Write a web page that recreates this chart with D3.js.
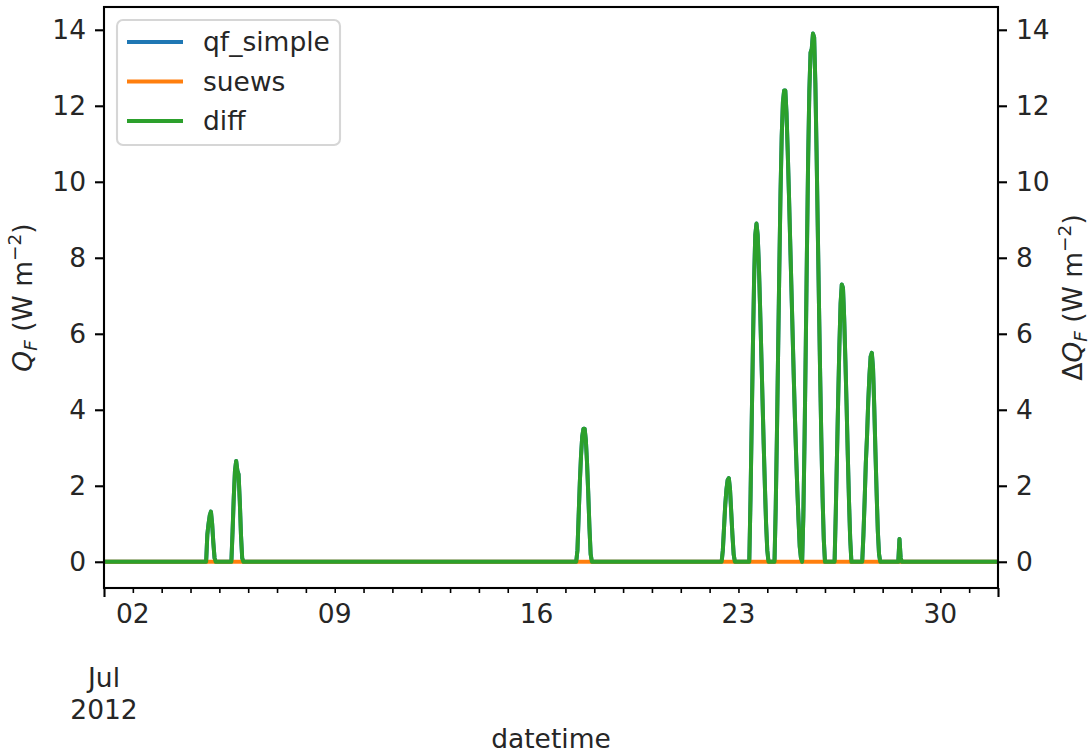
<!DOCTYPE html>
<html>
<head>
<meta charset="utf-8">
<script src="https://cdn.jsdelivr.net/npm/d3@7"></script>
<style>
  body { margin: 0; background: #fff; }
  svg { font-family: "DejaVu Sans", sans-serif; }
</style>
</head>
<body>
<svg id="chart" width="1092" height="755"></svg>
<script>
// hourly series, Jul 2012; zero everywhere except these daytime episodes
const seriesNames = ["qf_simple", "suews", "diff"];
const seriesColors = ["#1f77b4", "#ff7f0e", "#2ca02c"];

const periodStart = "2012-07-01T00:00:00Z";
const periodEnd = "2012-08-01T00:00:00Z";

// start of each nonzero episode of qf_simple, and its hourly values
const episodeStarts = [
  "2012-07-04T13:00:00Z", "2012-07-05T10:00:00Z", "2012-07-17T09:00:00Z",
  "2012-07-22T10:00:00Z", "2012-07-23T09:00:00Z", "2012-07-24T06:00:00Z",
  "2012-07-25T05:00:00Z", "2012-07-26T08:00:00Z", "2012-07-27T07:00:00Z",
  "2012-07-28T13:00:00Z"
];
const episodeValues = [
  [0, 0.72, 1.0, 1.22, 1.32, 1.0, 0.5, 0.1, 0],
  [0, 0.8, 1.7, 2.4, 2.65, 2.4, 2.3, 1.6, 0.7, 0.1, 0],
  [0, 0.3, 1.2, 2.1, 2.8, 3.3, 3.5, 3.5, 3.2, 2.6, 1.8, 0.9, 0.2, 0],
  [0, 0.3, 0.9, 1.5, 1.9, 2.15, 2.2, 1.9, 1.3, 0.7, 0.2, 0],
  [0, 1.6, 3.6, 5.6, 7.4, 8.6, 8.9, 8.6, 7.8, 6.7, 5.5, 4.3, 3.1, 2.0, 1.0, 0.3, 0],
  [0, 1.4, 3.3, 5.5, 7.7, 9.7, 11.2, 12.1, 12.4, 12.4, 11.8, 10.8, 9.7, 8.5, 7.3, 6.1, 4.9, 3.8, 2.8, 1.9, 1.1, 0.4, 0.1],
  [0, 1.2, 3.2, 5.6, 8.2, 10.6, 12.4, 13.4, 13.5, 13.9, 13.8, 12.6, 10.8, 8.8, 6.8, 4.9, 3.2, 1.7, 0.6, 0],
  [0, 1.3, 2.8, 4.3, 5.7, 6.8, 7.3, 7.2, 6.4, 5.3, 4.1, 2.8, 1.6, 0.6, 0],
  [0, 0.7, 1.6, 2.6, 3.3, 4.2, 4.9, 5.4, 5.5, 5.1, 4.1, 2.9, 1.8, 0.8, 0.2, 0],
  [0, 0.6, 0.1, 0]
];

const yTicks = [0, 2, 4, 6, 8, 10, 12, 14];
const xLabelDays = ["2012-07-02", "2012-07-09", "2012-07-16", "2012-07-23", "2012-07-30"];

const svg = d3.select("#chart");
const margin = { left: 104, right: 94, top: 7, bottom: 167 };
const W = 1092, H = 755;
const pw = W - margin.left - margin.right, ph = H - margin.top - margin.bottom;
const fs = 26.5, fsSmall = 18.5;

const t0 = new Date(periodStart), t1 = new Date(periodEnd);
const hours = d3.utcHour.range(t0, d3.utcHour.offset(t1, 1));

// build qf_simple from episodes
const qfMap = new Map();
episodeStarts.forEach((s, i) => {
  const st = new Date(s);
  episodeValues[i].forEach((v, k) => qfMap.set(+d3.utcHour.offset(st, k), v));
});
const qfSimple = hours.map(t => ({ t, v: qfMap.get(+t) || 0 }));
const suews = hours.map(t => ({ t, v: 0 }));
const diff = qfSimple.map((d, i) => ({ t: d.t, v: d.v - suews[i].v }));
const series = [qfSimple, suews, diff];

const x = d3.scaleUtc().domain([t0, t1]).range([0, pw]);
const y = d3.scaleLinear().domain([-0.69, 14.6]).range([ph, 0]);
const y2 = y.copy();

const g = svg.append("g").attr("transform", `translate(${margin.left},${margin.top})`);

g.append("clipPath").attr("id", "clip").append("rect").attr("width", pw).attr("height", ph);

const line = d3.line().x(d => x(d.t)).y(d => y(d.v));
g.append("g").attr("clip-path", "url(#clip)")
  .selectAll("path").data(series).enter().append("path")
  .attr("d", line)
  .attr("fill", "none")
  .attr("stroke", (d, i) => seriesColors[i])
  .attr("stroke-width", 4)
  .attr("stroke-linejoin", "round")
  .attr("stroke-linecap", "square");

// x axis: daily minor ticks, month major ticks
const minorAx = g.append("g").attr("transform", `translate(0,${ph})`)
  .call(d3.axisBottom(x).tickValues(d3.utcDay.range(d3.utcDay.offset(t0, 1), t1)).tickSize(5).tickFormat(""));
minorAx.select(".domain").remove();
minorAx.selectAll("line").attr("stroke", "#000").attr("stroke-width", 1.6);

const majorAx = g.append("g").attr("transform", `translate(0,${ph})`)
  .call(d3.axisBottom(x).tickValues([t0, t1]).tickSize(9).tickFormat(""));
majorAx.select(".domain").remove();
majorAx.selectAll("line").attr("stroke", "#000").attr("stroke-width", 2.1);

const fmtDay = d3.utcFormat("%d");
g.append("g").selectAll("text").data(xLabelDays.map(s => new Date(s + "T00:00:00Z"))).enter()
  .append("text")
  .attr("x", d => x(d)).attr("y", ph + 35)
  .attr("text-anchor", "middle").attr("font-size", fs).attr("fill", "#262626")
  .text(d => fmtDay(d));

const monthLbl = g.append("text").attr("x", x(t0)).attr("y", ph + 99)
  .attr("text-anchor", "middle").attr("font-size", fs).attr("fill", "#262626");
monthLbl.append("tspan").attr("x", x(t0)).text("Jul");
monthLbl.append("tspan").attr("x", x(t0)).attr("dy", 32).text("2012");

g.append("text").attr("x", pw / 2).attr("y", ph + 160)
  .attr("text-anchor", "middle").attr("font-size", fs).attr("fill", "#262626")
  .text("datetime");

// left y axis
const yl = g.append("g").call(d3.axisLeft(y).tickValues(yTicks).tickSize(9).tickPadding(9));
yl.select(".domain").remove();
yl.selectAll("line").attr("stroke", "#000").attr("stroke-width", 2.1);
yl.selectAll("text").attr("font-size", fs).attr("fill", "#262626").attr("font-family", "DejaVu Sans");

// right y axis
const yr = g.append("g").attr("transform", `translate(${pw},0)`)
  .call(d3.axisRight(y2).tickValues(yTicks).tickSize(9).tickPadding(9));
yr.select(".domain").remove();
yr.selectAll("line").attr("stroke", "#000").attr("stroke-width", 2.1);
yr.selectAll("text").attr("font-size", fs).attr("fill", "#262626").attr("font-family", "DejaVu Sans");

// frame
g.append("rect").attr("width", pw).attr("height", ph)
  .attr("fill", "none").attr("stroke", "#000").attr("stroke-width", 2.1);

// axis titles
function yTitle(el, delta) {
  if (delta) el.append("tspan").text("\u0394");
  el.append("tspan").attr("font-style", "italic").text("Q");
  el.append("tspan").attr("font-style", "italic").attr("font-size", fsSmall).attr("dy", 5).text("F");
  el.append("tspan").attr("dy", -5).text(" (W m");
  el.append("tspan").attr("font-size", fsSmall).attr("dy", -11).text("\u22122");
  el.append("tspan").attr("dy", 11).text(")");
}
const ly = svg.append("text").attr("transform", `translate(32,${margin.top + ph / 2}) rotate(-90)`)
  .attr("text-anchor", "middle").attr("font-size", fs).attr("fill", "#262626");
yTitle(ly, false);
const ry = svg.append("text").attr("transform", `translate(1082,${margin.top + ph / 2}) rotate(-90)`)
  .attr("text-anchor", "middle").attr("font-size", fs).attr("fill", "#262626");
yTitle(ry, true);

// legend
const lg = g.append("g").attr("transform", "translate(13,13)");
lg.append("rect").attr("width", 223).attr("height", 125).attr("rx", 6)
  .attr("fill", "#fff").attr("fill-opacity", 0.8).attr("stroke", "#d6d6d6").attr("stroke-width", 2.1);
seriesNames.forEach((n, i) => {
  const yy = 22 + i * 39.5;
  lg.append("line").attr("x1", 10).attr("x2", 66).attr("y1", yy).attr("y2", yy)
    .attr("stroke", seriesColors[i]).attr("stroke-width", 4);
  lg.append("text").attr("x", 86).attr("y", yy + 9).attr("font-size", fs).attr("fill", "#262626").text(n);
});
</script>
</body>
</html>
